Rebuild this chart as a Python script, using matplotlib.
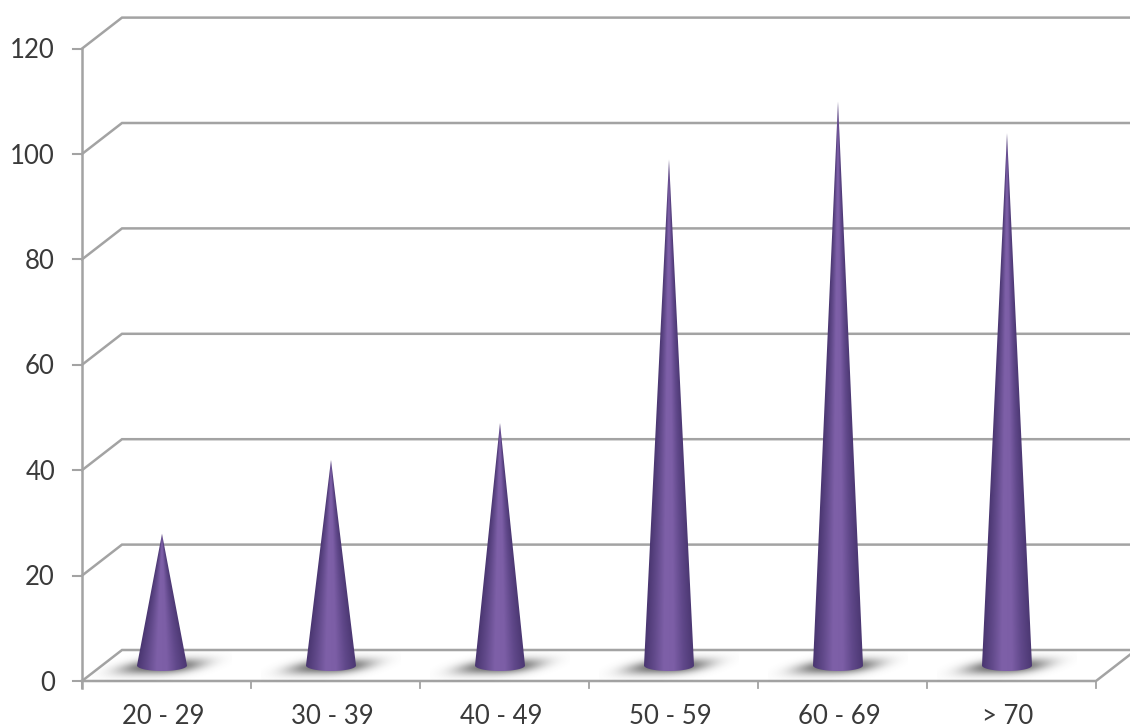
import numpy as np
import matplotlib
matplotlib.use('Agg')
import matplotlib.pyplot as plt
from matplotlib.colors import LinearSegmentedColormap
from matplotlib.patches import Polygon

plt.rcParams['font.family'] = ['Lato', 'DejaVu Sans']

age_groups = ['20 - 29', '30 - 39', '40 - 49', '50 - 59', '60 - 69', '> 70']
counts = [25, 39, 46, 96, 107, 101]
y_ticks = [0, 20, 40, 60, 80, 100, 120]

# pixels per unit on each axis of the original chart
px_x = 169.0
px_y = 5.27
depth_x = 40 / px_x
depth_y = 31 / px_y
left = -80 / px_x
right = left + 6
line_col = '#a3a3a3'
text_col = '#3a3a3a'

cone_cmap = LinearSegmentedColormap.from_list(
    'cone', ['#4a3671', '#624a8b', '#7e60a8', '#7c5ea6', '#60488a', '#4c3873'])

fig = plt.figure(figsize=(11.30, 7.27), dpi=100)
ax = fig.add_axes([0, 0, 1, 1])

# back wall and side lines
for v in y_ticks:
    ax.plot([left, left + depth_x, 10], [v, v + depth_y, v + depth_y],
            color=line_col, lw=1.8, zorder=1, solid_joinstyle='miter')
    ax.plot([left - 9 / px_x, left], [v, v], color=line_col, lw=1.5, zorder=1)
    ax.text(left - 27 / px_x, v - 0.4, str(v), ha='right', va='center',
            fontsize=18.5, color=text_col)

# floor
ax.plot([left, right, right + depth_x], [0, 0, depth_y], color=line_col, lw=1.8, zorder=1)
ax.plot([left, left], [-7 / px_y, 120], color=line_col, lw=1.8, zorder=1)
for i in range(7):
    ax.plot([left + i, left + i], [0, -7 / px_y], color=line_col, lw=1.3, zorder=1)

half_w = 25 / px_x
rim = 5.5 / px_y
floor_y = depth_y / 2

for i, (name, val) in enumerate(zip(age_groups, counts)):
    # shadow on the floor, fades out before the edge of its image
    sx = np.linspace(-70, 70, 280)
    sy = np.linspace(-16, 16, 64)
    gx, gy = np.meshgrid(sx, sy)
    u = (gx + gy * 1.8) / 38
    v = gy / 7.5
    alpha = 0.9 * np.exp(-np.abs(u) ** 3) * np.exp(-v ** 2)
    shadow = np.zeros(gx.shape + (4,))
    shadow[..., :3] = 0.33
    shadow[..., 3] = alpha
    ax.imshow(shadow, origin='upper', aspect='auto', zorder=2, interpolation='bilinear',
              extent=[i - 70 / px_x, i + 70 / px_x,
                      floor_y - 18 / px_y, floor_y + 14 / px_y])

    # cone with shading that follows its sides
    tip = floor_y + val
    ys = np.linspace(floor_y - rim, tip, 500)
    xs = np.linspace(-1, 1, 120)
    gx, gy = np.meshgrid(xs, ys)
    width = np.clip((tip - gy) / val, 0.004, 1)
    shade = np.clip((gx / width + 1) / 2, 0, 1)
    im = ax.imshow(shade, cmap=cone_cmap, origin='lower', aspect='auto', zorder=3,
                   vmin=0, vmax=1, interpolation='bilinear',
                   extent=[i - half_w, i + half_w, floor_y - rim, tip])
    t = np.linspace(0, np.pi, 40)
    outline = [(i, tip)] + [(i + half_w * np.cos(a), floor_y - rim * np.sin(a)) for a in t]
    clip = Polygon(outline, closed=True, transform=ax.transData, fc='none', ec='none')
    ax.add_patch(clip)
    im.set_clip_path(clip)

    ax.text(i + 1 / px_x, -35 / px_y, name, ha='center', va='center',
            fontsize=18.5, color=text_col)

ax.set_xlim(-162 / px_x, (1130 - 162) / px_x)
ax.set_ylim(-(727 - 681) / px_y, 681 / px_y)
ax.axis('off')

fig.savefig('out.png', dpi=100)
